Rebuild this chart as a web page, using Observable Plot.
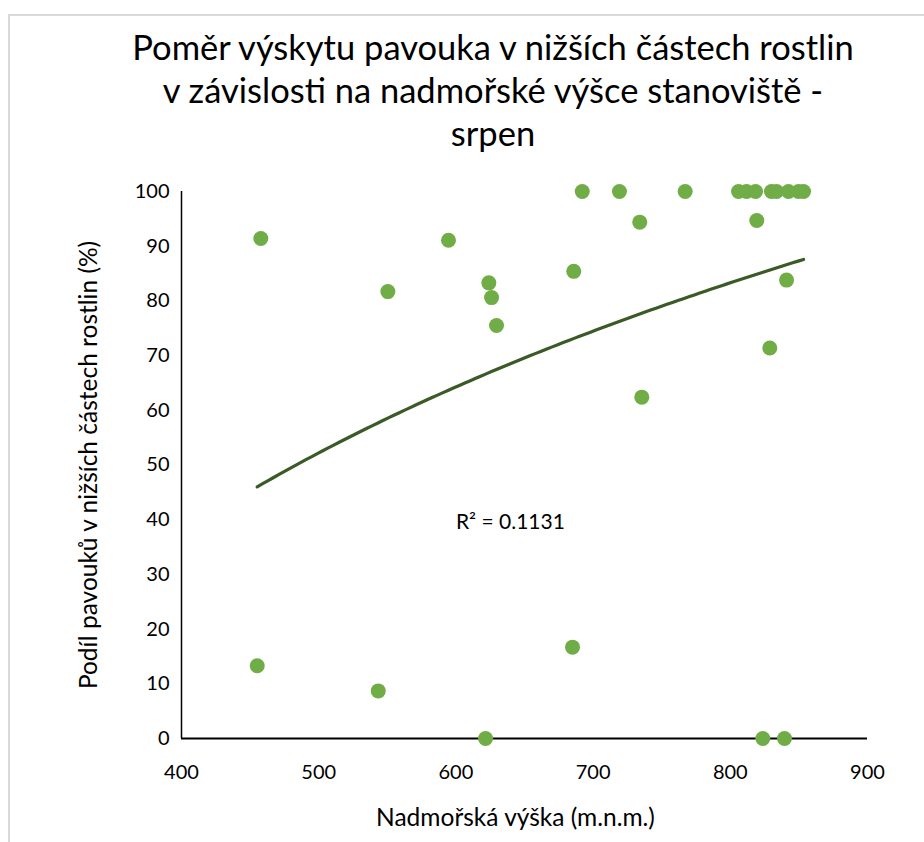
<!DOCTYPE html>
<html>
<head>
<meta charset="utf-8">
<script src="https://cdn.jsdelivr.net/npm/d3@7"></script>
<script src="https://cdn.jsdelivr.net/npm/@observablehq/plot@0.6"></script>
<style>
  html, body { margin: 0; padding: 0; background: #fff; }
  #wrap { position: relative; width: 924px; height: 842px; overflow: hidden; font-family: Lato, "Open Sans", sans-serif; }
  #border { position: absolute; left: 8px; top: 14px; width: 940px; height: 860px; border: 2px solid #d9d9d9; box-sizing: border-box; }
  #title { position: relative; box-sizing: border-box; height: 165px; padding-top: 25px; width: 840px; margin-left: 73px; text-align: center; font-size: 34.5px; line-height: 43px; color: #000; }
  #chart { position: relative; }
  #chart svg { display: block; }
</style>
</head>
<body>
<div id="wrap">
  <div id="border"></div>
  <div id="title">Poměr výskytu pavouka v nižších částech rostlin<br>v závislosti na nadmořské výšce stanoviště -<br>srpen</div>
  <div id="chart"></div>
</div>
<script>
// Altitude (m n. m.) of each site
const altitude = [457.8, 455.2, 543.4, 550.4, 594.6, 624.0, 626.0, 629.6, 621.6, 685.9,
                  685.0, 692.1, 719.2, 734.0, 735.5, 767.1, 806.0, 811.8, 818.4, 830.0,
                  833.7, 842.4, 849.7, 853.4, 819.3, 841.0, 828.8, 823.7, 839.5];
// Share of spiders in lower plant parts (%)
const share = [91.4, 13.3, 8.7, 81.7, 91.1, 83.3, 80.6, 75.5, 0, 85.4,
               16.7, 100, 100, 94.4, 62.4, 100, 100, 100, 100, 100,
               100, 100, 100, 100, 94.7, 83.8, 71.4, 0, 0];
const xTicks = [400, 500, 600, 700, 800, 900];
const yTicks = [0, 10, 20, 30, 40, 50, 60, 70, 80, 90, 100];
const xLabel = "Nadmořská výška (m.n.m.)";
const yLabel = "Podíl pavouků v nižších částech rostlin (%)";
const r2Label = ["R² = 0.1131"];
const r2At = {x: 600, y: 39.5};
// Logarithmic trendline coefficients: y = trendA * ln(x) + trendB
const trendA = 66.16;
const trendB = -358.95;

const points = altitude.map((a, i) => ({x: a, y: share[i]}));
const [x0, x1] = d3.extent(altitude);
const trend = d3.range(0, 101).map(k => { const x = x0 + (x1 - x0) * k / 100; return {x, y: trendA * Math.log(x) + trendB}; });

const plot = Plot.plot({
  width: 924,
  height: 677,
  marginLeft: 181,
  marginRight: 57,
  marginTop: 26,
  marginBottom: 104,
  style: {fontFamily: "Lato, 'Open Sans', sans-serif", fontSize: "20px", color: "#000", background: "transparent", overflow: "visible"},
  x: {domain: [400, 900]},
  y: {domain: [0, 100]},
  marks: [
    Plot.axisX({ticks: xTicks, tickSize: 0, tickPadding: 26, label: null, fontSize: 20}),
    Plot.axisY({ticks: yTicks, tickSize: 0, tickPadding: 12, label: null, fontSize: 20}),
    Plot.ruleX([400], {stroke: "#000", strokeWidth: 1.5}),
    Plot.ruleY([0], {stroke: "#000", strokeWidth: 2}),
    Plot.line(trend, {x: "x", y: "y", stroke: "#3a5a26", strokeWidth: 3.2}),
    Plot.dot(points, {x: "x", y: "y", r: 7.5, fill: "#70ad47", stroke: "none"}),
    Plot.text(r2Label, {x: () => r2At.x, y: () => r2At.y, text: d => d, textAnchor: "start", fontSize: 21, fill: "#000"}),
    Plot.text([xLabel], {frameAnchor: "bottom", dy: 87, dx: -9, text: d => d, textAnchor: "middle", fontSize: 24.5, fill: "#000"}),
    Plot.text([yLabel], {frameAnchor: "left", dx: -92, rotate: -90, text: d => d, textAnchor: "middle", fontSize: 24.5, fill: "#000"})
  ]
});
document.getElementById("chart").appendChild(plot);
</script>
</body>
</html>
